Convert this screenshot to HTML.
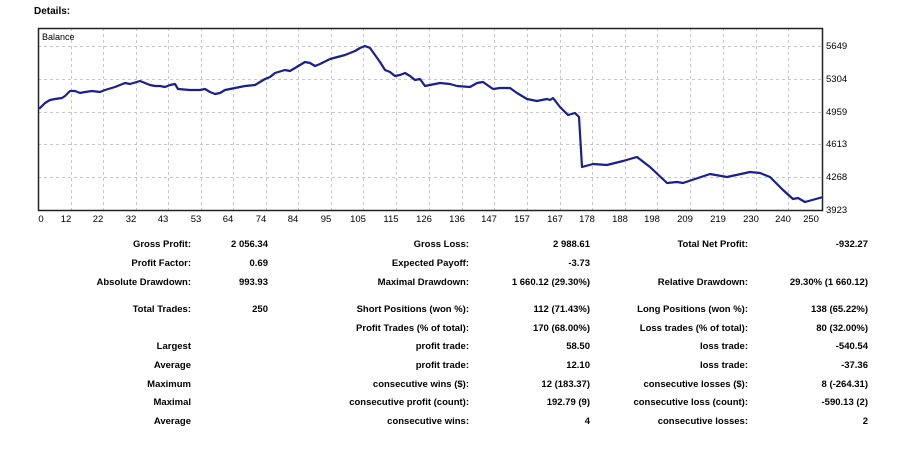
<!DOCTYPE html>
<html><head><meta charset="utf-8"><style>
body{margin:0;background:#fff;width:900px;height:451px;overflow:hidden;}
svg{position:absolute;left:0;top:0}
</style></head><body>
<svg width="900" height="451" xmlns="http://www.w3.org/2000/svg">
<text x="34" y="14" font-family="Liberation Sans,sans-serif" font-size="10" font-weight="bold">Details:</text>
<g stroke="#c8c8c8" stroke-width="1" stroke-dasharray="3,3">
<line x1="38" y1="46.5" x2="823" y2="46.5"/><line x1="38" y1="79.5" x2="823" y2="79.5"/><line x1="38" y1="112.5" x2="823" y2="112.5"/><line x1="38" y1="144.5" x2="823" y2="144.5"/><line x1="38" y1="177.5" x2="823" y2="177.5"/>
<line x1="71.5" y1="28" x2="71.5" y2="210"/><line x1="103.5" y1="28" x2="103.5" y2="210"/><line x1="136.5" y1="28" x2="136.5" y2="210"/><line x1="168.5" y1="28" x2="168.5" y2="210"/><line x1="201.5" y1="28" x2="201.5" y2="210"/><line x1="233.5" y1="28" x2="233.5" y2="210"/><line x1="266.5" y1="28" x2="266.5" y2="210"/><line x1="298.5" y1="28" x2="298.5" y2="210"/><line x1="331.5" y1="28" x2="331.5" y2="210"/><line x1="363.5" y1="28" x2="363.5" y2="210"/><line x1="396.5" y1="28" x2="396.5" y2="210"/><line x1="429.5" y1="28" x2="429.5" y2="210"/><line x1="462.5" y1="28" x2="462.5" y2="210"/><line x1="494.5" y1="28" x2="494.5" y2="210"/><line x1="527.5" y1="28" x2="527.5" y2="210"/><line x1="560.5" y1="28" x2="560.5" y2="210"/><line x1="592.5" y1="28" x2="592.5" y2="210"/><line x1="625.5" y1="28" x2="625.5" y2="210"/><line x1="657.5" y1="28" x2="657.5" y2="210"/><line x1="690.5" y1="28" x2="690.5" y2="210"/><line x1="723.5" y1="28" x2="723.5" y2="210"/><line x1="756.5" y1="28" x2="756.5" y2="210"/><line x1="788.5" y1="28" x2="788.5" y2="210"/>
</g>
<rect x="38.5" y="28.5" width="784" height="182" fill="none" stroke="#222" stroke-width="1.5"/>
<text x="42" y="40" font-family="Liberation Sans,sans-serif" font-size="9">Balance</text>
<polyline fill="none" stroke="#1a1f8c" stroke-width="2.2" stroke-linejoin="round" points="38,108 40,108 45,103 50,100 55,99 62,98 65,96 70,91 75,91 80,93 85,92 92,91 100,92 105,90 115,87 125,83 130,84 140,81 150,85 155,86 160,86 165,87 170,85 175,84 178,89 190,90 200,90 205,89 210,92 215,94 220,93 225,90 235,88 245,86 255,85 260,82 265,79 270,77 275,73 285,70 290,71 300,65 305,62 310,63 315,66 320,64 330,59 345,55 355,51 360,48 365,46 370,48 375,55 380,62 385,70 390,72 395,76 400,75 405,73 410,76 415,80 420,79 425,86 430,85 440,83 450,84 457,86 470,87 477,83 483,82 493,89 500,88 510,88 517,93 527,99 537,101 547,99 550,100 553,98 560,107 568,115 575,113 579,117 582,167 593,164 607,165 623,161 637,157 650,167 667,183 677,182 683,183 710,174 727,177 750,172 760,173 770,177 783,190 793,199 798,198 805,202 823,197"/>
<g font-family="Liberation Sans,sans-serif" font-size="9.5" fill="#000">
<text x="826" y="49">5649</text><text x="826" y="82">5304</text><text x="826" y="115">4959</text><text x="826" y="147">4613</text><text x="826" y="180">4268</text><text x="826" y="213">3923</text>
</g>
<g font-family="Liberation Sans,sans-serif" font-size="9.5" fill="#000" text-anchor="middle">
<text x="41" y="222">0</text><text x="66" y="222">12</text><text x="98" y="222">22</text><text x="131" y="222">32</text><text x="163" y="222">43</text><text x="196" y="222">53</text><text x="228" y="222">64</text><text x="261" y="222">74</text><text x="293" y="222">84</text><text x="326" y="222">95</text><text x="358" y="222">105</text><text x="391" y="222">115</text><text x="424" y="222">126</text><text x="457" y="222">136</text><text x="489" y="222">147</text><text x="522" y="222">157</text><text x="555" y="222">167</text><text x="587" y="222">178</text><text x="620" y="222">188</text><text x="652" y="222">198</text><text x="685" y="222">209</text><text x="718" y="222">219</text><text x="751" y="222">230</text><text x="783" y="222">240</text><text x="811" y="222">250</text>
</g>
<g font-family="Liberation Sans,sans-serif" font-size="9.5" font-weight="bold" fill="#000" text-anchor="end">
<text x="191" y="247">Gross Profit:</text><text x="268" y="247">2 056.34</text><text x="469" y="247">Gross Loss:</text><text x="590" y="247">2 988.61</text><text x="748" y="247">Total Net Profit:</text><text x="868" y="247">-932.27</text>
<text x="191" y="266">Profit Factor:</text><text x="268" y="266">0.69</text><text x="469" y="266">Expected Payoff:</text><text x="590" y="266">-3.73</text>
<text x="191" y="285">Absolute Drawdown:</text><text x="268" y="285">993.93</text><text x="469" y="285">Maximal Drawdown:</text><text x="590" y="285">1 660.12 (29.30%)</text><text x="748" y="285">Relative Drawdown:</text><text x="868" y="285">29.30% (1 660.12)</text>
<text x="191" y="312">Total Trades:</text><text x="268" y="312">250</text><text x="469" y="312">Short Positions (won %):</text><text x="590" y="312">112 (71.43%)</text><text x="748" y="312">Long Positions (won %):</text><text x="868" y="312">138 (65.22%)</text>
<text x="469" y="331">Profit Trades (% of total):</text><text x="590" y="331">170 (68.00%)</text><text x="748" y="331">Loss trades (% of total):</text><text x="868" y="331">80 (32.00%)</text>
<text x="191" y="349">Largest</text><text x="469" y="349">profit trade:</text><text x="590" y="349">58.50</text><text x="748" y="349">loss trade:</text><text x="868" y="349">-540.54</text>
<text x="191" y="368">Average</text><text x="469" y="368">profit trade:</text><text x="590" y="368">12.10</text><text x="748" y="368">loss trade:</text><text x="868" y="368">-37.36</text>
<text x="191" y="387">Maximum</text><text x="469" y="387">consecutive wins ($):</text><text x="590" y="387">12 (183.37)</text><text x="748" y="387">consecutive losses ($):</text><text x="868" y="387">8 (-264.31)</text>
<text x="191" y="405">Maximal</text><text x="469" y="405">consecutive profit (count):</text><text x="590" y="405">192.79 (9)</text><text x="748" y="405">consecutive loss (count):</text><text x="868" y="405">-590.13 (2)</text>
<text x="191" y="424">Average</text><text x="469" y="424">consecutive wins:</text><text x="590" y="424">4</text><text x="748" y="424">consecutive losses:</text><text x="868" y="424">2</text>
</g>
</svg>
</body></html>
